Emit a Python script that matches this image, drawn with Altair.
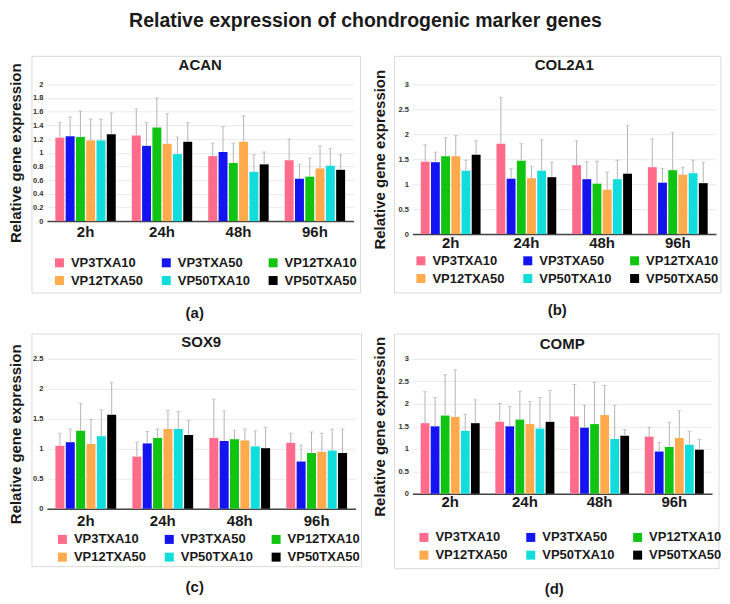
import altair as alt
import pandas as pd

groups = ["VP3TXA10", "VP3TXA50", "VP12TXA10", "VP12TXA50", "VP50TXA10", "VP50TXA50"]
times = ["2h", "24h", "48h", "96h"]
colors = ["#FF6B8A", "#1414F0", "#11C411", "#FFAA4C", "#11DDDD", "#000000"]

acan_mean = [[1.22, 1.24, 1.23, 1.18, 1.18, 1.27],
             [1.25, 1.10, 1.37, 1.13, 0.98, 1.16],
             [0.95, 1.01, 0.85, 1.16, 0.72, 0.83],
             [0.89, 0.62, 0.65, 0.77, 0.81, 0.75]]
acan_upper = [[1.44, 1.52, 1.61, 1.49, 1.49, 1.58],
              [1.64, 1.44, 1.80, 1.57, 1.23, 1.44],
              [1.14, 1.38, 1.14, 1.54, 0.97, 1.01],
              [1.20, 0.83, 0.92, 1.10, 1.06, 0.97]]

col2a1_mean = [[1.45, 1.44, 1.56, 1.56, 1.27, 1.59],
               [1.81, 1.11, 1.47, 1.12, 1.27, 1.14],
               [1.38, 1.10, 1.01, 0.89, 1.10, 1.21],
               [1.34, 1.03, 1.28, 1.19, 1.22, 1.02]]
col2a1_upper = [[1.79, 1.64, 1.93, 1.97, 1.48, 1.87],
                [2.74, 1.31, 1.81, 1.36, 1.89, 1.44],
                [1.87, 1.45, 1.46, 1.24, 1.48, 2.17],
                [1.91, 1.31, 2.03, 1.34, 1.48, 1.44]]

sox9_mean = [[1.05, 1.11, 1.30, 1.08, 1.21, 1.57],
             [0.87, 1.09, 1.18, 1.33, 1.33, 1.23],
             [1.18, 1.13, 1.16, 1.14, 1.04, 1.01],
             [1.10, 0.79, 0.93, 0.95, 0.97, 0.93]]
sox9_upper = [[1.26, 1.33, 1.76, 1.49, 1.65, 2.11],
              [1.11, 1.29, 1.33, 1.64, 1.62, 1.47],
              [1.83, 1.63, 1.31, 1.33, 1.30, 1.36],
              [1.26, 1.06, 1.28, 1.26, 1.33, 1.33]]

comp_mean = [[1.57, 1.50, 1.74, 1.71, 1.40, 1.57],
             [1.60, 1.50, 1.65, 1.55, 1.45, 1.60],
             [1.72, 1.47, 1.55, 1.75, 1.22, 1.29],
             [1.27, 0.94, 1.04, 1.24, 1.09, 0.98]]
comp_upper = [[2.27, 2.14, 2.65, 2.76, 1.77, 2.09],
              [2.01, 1.94, 2.28, 2.05, 2.14, 2.30],
              [2.43, 1.97, 2.48, 2.41, 1.97, 1.43],
              [1.48, 1.14, 1.59, 1.85, 1.39, 1.21]]

ticks_acan = [0, 0.2, 0.4, 0.6, 0.8, 1, 1.2, 1.4, 1.6, 1.8, 2]
ticks_col2a1 = [0, 0.5, 1, 1.5, 2, 2.5, 3]
ticks_sox9 = [0, 0.5, 1, 1.5, 2, 2.5]
ticks_comp = [0, 0.5, 1, 1.5, 2, 2.5, 3]

FONT = "Liberation Sans"
TXT = "#1a1a1a"
ERR = "#b5b5b5"


def panel(gene, mean, upper, ticks, ymax, W, H, title_off, xpad, ytx,
          legx, legy, box, lab, labpos):
    rows = []
    for ti, t in enumerate(times):
        for gi, g in enumerate(groups):
            rows.append({"time": t, "group": g, "value": mean[ti][gi],
                         "upper": upper[ti][gi]})
    df = pd.DataFrame(rows)
    base = alt.Chart(df)
    x = alt.X("time:N", sort=times,
              scale=alt.Scale(paddingInner=0.21, paddingOuter=0.11),
              axis=alt.Axis(title=None, labelAngle=0, labelFontSize=15,
                            labelFontWeight="bold", labelColor=TXT,
                            domainColor="#444444", domainWidth=1.5,
                            ticks=False, tickSize=0, labelPadding=xpad,
                            grid=False))
    xo = alt.XOffset("group:N", sort=groups,
                     scale=alt.Scale(paddingInner=0.13, paddingOuter=0))
    yscale = alt.Scale(domain=[0, ymax], nice=False)
    yaxis = alt.Axis(values=ticks, format="~g", labelOverlap=False,
                     tickCount=len(ticks),
                     title="Relative gene expression",
                     titleFontSize=15, titleFontWeight="bold",
                     titleColor=TXT, titleX=ytx, titleY=H / 2,
                     titleAngle=-90, titleBaseline="middle",
                     titleAlign="center",
                     labelFontSize=7.5, labelFontWeight="bold",
                     labelColor="#333333", labelPadding=4,
                     domain=False, ticks=False, tickSize=0,
                     grid=True, gridColor="#e9e9e9")
    bars = base.mark_bar().encode(
        x=x, xOffset=xo, y=alt.Y("value:Q", scale=yscale, axis=yaxis),
        color=alt.Color("group:N", sort=groups,
                        scale=alt.Scale(domain=groups, range=colors),
                        legend=alt.Legend(orient="none", legendX=legx,
                                          legendY=legy, columns=3,
                                          direction="horizontal",
                                          title=None, symbolType="square",
                                          symbolSize=81, symbolStrokeWidth=0,
                                          labelFontSize=13,
                                          labelFontWeight="bold",
                                          labelColor=TXT, columnPadding=16,
                                          rowPadding=4, labelOffset=5,
                                          padding=0)))
    err = base.mark_rule(color=ERR, strokeWidth=1).encode(
        x=x, xOffset=xo, y=alt.Y("value:Q", scale=yscale, axis=yaxis),
        y2="upper:Q")
    cap = base.mark_tick(color=ERR, size=4, thickness=1).encode(
        x=x, xOffset=xo, y=alt.Y("upper:Q", scale=yscale, axis=yaxis))
    one = alt.Data(values=[{"k": 1}])
    frame = alt.Chart(one).mark_rect(filled=False, stroke="#dadada",
                                     strokeWidth=1).encode(
        x=alt.value(box[0]), x2=alt.value(box[1]),
        y=alt.value(box[2]), y2=alt.value(box[3]))
    label = alt.Chart(one).mark_text(text=lab, fontSize=15,
                                     fontWeight="bold", color=TXT,
                                     align="center",
                                     baseline="middle").encode(
        x=alt.value(labpos[0]), y=alt.value(labpos[1]))
    return alt.layer(frame, bars, err, cap, label).properties(
        width=W, height=H,
        title=alt.TitleParams(gene, fontSize=15, fontWeight="bold",
                              color=TXT, offset=title_off))


pa = panel("ACAN", acan_mean, acan_upper, ticks_acan, 2, 307, 137, -17, 3, -31,
           6, 172, (-15, 314, -28, 209), "(a)", (148, 229))
pb = panel("COL2A1", col2a1_mean, col2a1_upper, ticks_col2a1, 3, 304, 150, -17,
           1, -33, 2, 170, (-18, 309, -28, 209), "(b)", (145, 226))
pc = panel("SOX9", sox9_mean, sox9_upper, ticks_sox9, 2.5, 309, 150, -17, 5,
           -31, 9, 174, (-15, 315, -25, 208), "(c)", (148, 228))
pd_ = panel("COMP", comp_mean, comp_upper, ticks_comp, 3, 300, 135, -19, 1,
            -33, 5, 172, (-18, 307, -25, 210), "(d)", (142, 230))

chart = alt.concat(pa, pb, pc, pd_, columns=2, bounds="flush",
                   spacing={"row": 125, "column": 57}).resolve_scale(
    color="independent", xOffset="independent").properties(
    title=alt.TitleParams("Relative expression of chondrogenic marker genes",
                          fontSize=19.5, fontWeight="bold", color=TXT,
                          anchor="middle", offset=24),
    padding={"left": 0, "top": 3, "right": 0, "bottom": 0},
).configure(font=FONT).configure_view(strokeWidth=0)

chart.save("out.html", embed_options={"renderer": "svg", "actions": False})
